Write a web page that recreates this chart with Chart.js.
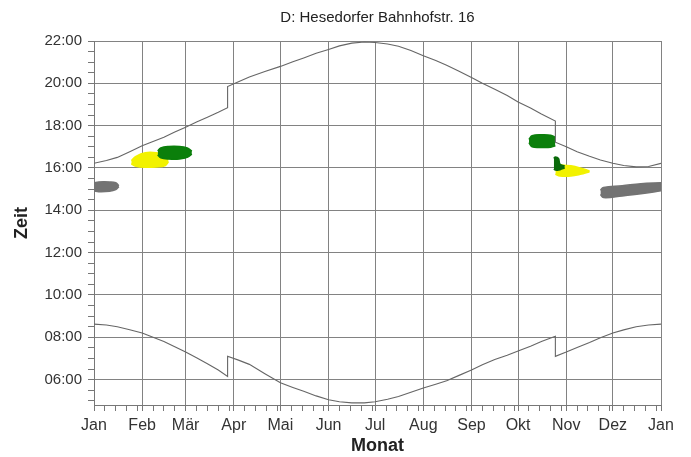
<!DOCTYPE html>
<html>
<head>
<meta charset="utf-8">
<script src="https://cdn.jsdelivr.net/npm/chart.js@4.4.0/dist/chart.umd.min.js"></script>
<style>
  body { margin: 0; background: #fff; }
</style>
</head>
<body>
<canvas id="schattenChart" width="691" height="457"></canvas>
<script>
const ctx = document.getElementById('schattenChart').getContext('2d');

// Achsen
const titel = 'D: Hesedorfer Bahnhofstr. 16';
const monatLabels = ['Jan', 'Feb', 'Mär', 'Apr', 'Mai', 'Jun', 'Jul', 'Aug', 'Sep', 'Okt', 'Nov', 'Dez', 'Jan'];
const monatStart = [0, 31, 59, 90, 120, 151, 181, 212, 243, 273, 304, 334, 365];
const zeitTicks = [6, 8, 10, 12, 14, 16, 18, 20, 22];

// Sonnenuntergang / Sonnenaufgang (Tag im Jahr, Uhrzeit in Stunden)
const untergangTage = [0, 8, 15, 23, 31, 38, 45, 52, 59, 66, 73, 80, 86, 86, 93, 100, 110, 120, 128, 135, 143, 151, 158, 166, 174, 181, 189, 196, 204, 212, 220, 227, 235, 243, 250, 258, 266, 273, 281, 288, 297, 297, 304, 311, 319, 326, 334, 341, 349, 357, 365];
const untergangZeit = [16.22, 16.35, 16.5, 16.77, 17.05, 17.25, 17.45, 17.7, 17.93, 18.17, 18.4, 18.63, 18.85, 19.85, 20.07, 20.3, 20.56, 20.8, 21.02, 21.2, 21.42, 21.6, 21.77, 21.9, 21.95, 21.93, 21.86, 21.75, 21.55, 21.3, 21.08, 20.85, 20.57, 20.27, 20.0, 19.72, 19.42, 19.12, 18.83, 18.55, 18.22, 17.22, 17.0, 16.77, 16.55, 16.38, 16.22, 16.12, 16.05, 16.07, 16.22];
const aufgangTage = [0, 8, 15, 23, 31, 38, 45, 52, 59, 66, 73, 80, 86, 86, 93, 100, 110, 120, 128, 135, 143, 151, 158, 166, 174, 181, 189, 196, 204, 212, 220, 227, 235, 243, 250, 258, 266, 273, 281, 288, 297, 297, 304, 311, 319, 326, 334, 341, 349, 357, 365];
const aufgangZeit = [8.62, 8.58, 8.5, 8.36, 8.2, 8.0, 7.8, 7.55, 7.3, 7.03, 6.75, 6.45, 6.15, 7.1, 6.92, 6.72, 6.28, 5.85, 5.63, 5.45, 5.23, 5.05, 4.95, 4.9, 4.9, 4.95, 5.07, 5.2, 5.4, 5.6, 5.78, 5.95, 6.2, 6.45, 6.7, 6.95, 7.15, 7.35, 7.58, 7.8, 8.05, 7.1, 7.3, 7.52, 7.75, 7.98, 8.2, 8.35, 8.5, 8.58, 8.62];

// Schattenwurf-Zeiträume (Tag, von, bis)
const grauJanTage = [0, 3, 10, 14, 16];
const grauJanVon = [14.92, 14.88, 14.9, 14.98, 15.12];
const grauJanBis = [15.3, 15.34, 15.34, 15.3, 15.16];

const gelbFebTage = [24, 27, 33, 40, 46, 48];
const gelbFebVon = [16.2, 16.08, 16.03, 16.05, 16.12, 16.3];
const gelbFebBis = [16.35, 16.55, 16.72, 16.72, 16.6, 16.4];

const gruenFebTage = [41, 43, 48, 55, 60, 63];
const gruenFebVon = [16.62, 16.48, 16.42, 16.42, 16.5, 16.65];
const gruenFebBis = [16.8, 16.95, 17.02, 17.02, 16.95, 16.8];

const gruenOktTage = [280, 282, 288, 294, 297];
const gruenOktVon = [17.2, 17.0, 16.97, 16.98, 17.05];
const gruenOktBis = [17.35, 17.52, 17.57, 17.55, 17.45];

const gruenNovTage = [296, 297, 299, 300, 303];
const gruenNovVon = [15.95, 15.9, 15.9, 15.92, 16.0];
const gruenNovBis = [16.45, 16.52, 16.45, 16.18, 16.1];

const gelbNovTage = [297, 300, 307, 313, 319];
const gelbNovVon = [15.7, 15.62, 15.62, 15.7, 15.82];
const gelbNovBis = [16.15, 16.15, 16.1, 16.0, 15.86];

const grauDezTage = [326, 328, 340, 352, 365];
const grauDezVon = [14.75, 14.6, 14.68, 14.78, 14.92];
const grauDezBis = [14.95, 15.08, 15.16, 15.26, 15.3];

const punkte = (tage, werte) => tage.map((t, i) => ({ x: t, y: werte[i] }));

// zwei Datensätze pro Fläche: untere Grenze + obere Grenze mit Füllung
function flaeche(tage, von, bis, farbe, order) {
  const basis = { borderColor: farbe, borderWidth: 1.5, pointRadius: 0, tension: 0.4, order: order };
  return [
    Object.assign({ data: punkte(tage, von), fill: false }, basis),
    Object.assign({ data: punkte(tage, bis), fill: '-1', backgroundColor: farbe }, basis)
  ];
}

const kurve = { borderColor: '#666', borderWidth: 1.1, pointRadius: 0, tension: 0, fill: false, order: 0 };

const datasets = [
  Object.assign({ data: punkte(untergangTage, untergangZeit) }, kurve),
  Object.assign({ data: punkte(aufgangTage, aufgangZeit) }, kurve),
  ...flaeche(grauJanTage, grauJanVon, grauJanBis, '#737373', 4),
  ...flaeche(grauDezTage, grauDezVon, grauDezBis, '#737373', 4),
  ...flaeche(gelbFebTage, gelbFebVon, gelbFebBis, '#f2f200', 3),
  ...flaeche(gelbNovTage, gelbNovVon, gelbNovBis, '#f2f200', 3),
  ...flaeche(gruenFebTage, gruenFebVon, gruenFebBis, '#0b7f0b', 2),
  ...flaeche(gruenOktTage, gruenOktVon, gruenOktBis, '#0b7f0b', 2),
  ...flaeche(gruenNovTage, gruenNovVon, gruenNovBis, '#0a6a0a', 1)
];

const schrift = '"Liberation Sans", Arial, sans-serif';

// Titel über der Zeichenfläche zentriert
const titelPlugin = {
  id: 'titel',
  afterDraw(chart) {
    const c = chart.ctx, a = chart.chartArea;
    c.save();
    c.font = '15px ' + schrift;
    c.fillStyle = '#222';
    c.textAlign = 'center';
    c.textBaseline = 'middle';
    c.fillText(titel, (a.left + a.right) / 2, 18);
    c.restore();
  }
};

const istMonat = v => monatStart.includes(v);
const istZeit = v => zeitTicks.includes(v);

new Chart(ctx, {
  type: 'line',
  data: { datasets: datasets },
  plugins: [titelPlugin],
  options: {
    responsive: false,
    animation: false,
    layout: { padding: { top: 41, right: 30, bottom: 0, left: 0 } },
    plugins: { legend: { display: false }, tooltip: { enabled: false } },
    scales: {
      x: {
        type: 'linear',
        min: 0,
        max: 365,
        offset: false,
        afterBuildTicks: scale => {
          const t = monatStart.slice();
          for (let i = 0; i < 12; i++) {
            [7, 14, 21, 28].forEach(k => { if (monatStart[i] + k < monatStart[i + 1] - 1) t.push(monatStart[i] + k); });
          }
          scale.ticks = t.sort((a, b) => a - b).map(v => ({ value: v }));
        },
        afterFit: scale => { scale.height = 52; },
        ticks: {
          autoSkip: false,
          maxRotation: 0,
          padding: 5,
          color: '#333',
          font: { family: schrift, size: 16 },
          callback: v => { const i = monatStart.indexOf(v); return i >= 0 ? monatLabels[i] : ''; }
        },
        grid: {
          color: c => (c.tick && istMonat(c.tick.value)) ? '#828282' : 'rgba(0,0,0,0)',
          tickColor: '#777',
          tickLength: 6
        },
        border: { color: '#777' },
        title: { display: true, text: 'Monat', color: '#222', font: { family: schrift, size: 18, weight: 'bold' }, padding: { top: 0, bottom: 0 } }
      },
      y: {
        min: 4.8,
        max: 22,
        afterBuildTicks: scale => {
          const t = [];
          for (let h = 5; h <= 22; h += 0.5) t.push({ value: h });
          scale.ticks = t;
        },
        afterFit: scale => { scale.width = 94; },
        ticks: {
          autoSkip: false,
          padding: 6,
          color: '#333',
          font: { family: schrift, size: 15 },
          callback: v => istZeit(v) ? String(v).padStart(2, '0') + ':00' : ''
        },
        grid: {
          color: c => (c.tick && istZeit(c.tick.value)) ? '#828282' : 'rgba(0,0,0,0)',
          tickColor: '#777',
          tickLength: 6
        },
        border: { color: '#777' },
        title: { display: true, text: 'Zeit', color: '#222', font: { family: schrift, size: 18, weight: 'bold' }, padding: { top: 11, bottom: 0 } }
      }
    }
  }
});
</script>
</body>
</html>
